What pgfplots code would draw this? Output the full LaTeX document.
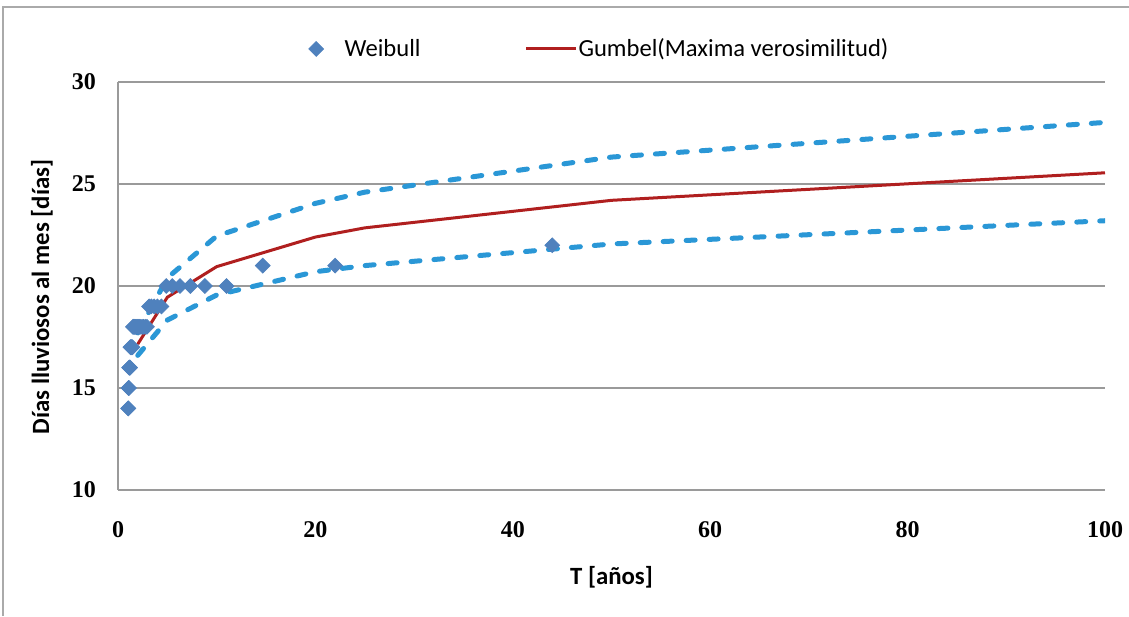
\documentclass[border=0pt]{standalone}
\usepackage{fontspec}
\setmainfont{Carlito}
\newfontfamily\tickfont{Liberation Serif}
\usepackage{pgfplots}
\pgfplotsset{compat=1.18}

\definecolor{weibull}{HTML}{4F81BD}
\definecolor{gumbel}{HTML}{B01F1F}
\definecolor{band}{HTML}{2A97D6}
\definecolor{gridgray}{HTML}{9A9A9A}
\definecolor{framegray}{HTML}{AAAAAA}

\pgfplotsset{
  longline legend/.style={
    legend image code/.code={\draw[##1] (0pt,0pt) -- (25pt,0pt);}},
  band line/.style={band, line width=2.5pt, line cap=round,
    dash pattern=on 4.5pt off 7pt, forget plot},
}

\begin{document}
\begin{tikzpicture}
\path[use as bounding box] (0pt,0pt) rectangle (564.5pt,-308pt);
\draw[framegray, line width=0.6pt] (1.5pt,-308pt) -- (1.5pt,-3.5pt) -- (564.5pt,-3.5pt);
\begin{axis}[
  at={(59pt,-245pt)}, anchor=south west,
  scale only axis, width=493.5pt, height=204pt,
  xmin=0, xmax=100, ymin=10, ymax=30,
  xtick={0,20,40,60,80,100}, ytick={10,15,20,25,30},
  axis lines*=left,
  axis line style={-, draw=gridgray, line width=0.75pt},
  major tick length=0pt,
  ymajorgrids, grid style={draw=gridgray, line width=0.75pt},
  /pgf/number format/assume math mode=true,
  ticklabel style={font=\tickfont\bfseries\fontsize{12}{12}\selectfont},
  yticklabel style={xshift=-7.5pt},
  xticklabel style={yshift=-12pt},
  xlabel={T [años]},
  ylabel={Días lluviosos al mes [días]},
  label style={font=\bfseries\fontsize{12.4}{14}\selectfont},
  xlabel style={at={(axis description cs:0.5,-0.213)}, anchor=center},
  ylabel style={at={(axis description cs:-0.077,0.473)}, anchor=center},
  legend style={at={(axis description cs:0.489,1.081)}, anchor=center,
    draw=none, fill=none, legend columns=2,
    font=\fontsize{12.3}{14}\selectfont,
    /tikz/column 1/.style={column sep=8.5pt},
    /tikz/column 2/.style={column sep=50pt},
    /tikz/column 3/.style={column sep=-1.5pt}},
]
% Weibull plotting positions, T = (n+1)/m with n = 43
\addplot[only marks, mark=square*, mark size=2.6pt,
  mark options={rotate=45, fill=weibull, draw=weibull}] coordinates {
  (44.000,22) (22.000,21) (14.667,21) (11.000,20) (8.800,20) (7.333,20)
  (6.286,20) (5.500,20) (4.889,20) (4.400,19) (4.000,19) (3.667,19)
  (3.385,19) (3.143,19) (2.933,18) (2.750,18) (2.588,18) (2.444,18)
  (2.316,18) (2.200,18) (2.095,18) (2.000,18) (1.913,18) (1.833,18)
  (1.760,18) (1.692,18) (1.630,18) (1.571,18) (1.517,18) (1.467,17)
  (1.419,17) (1.375,17) (1.333,17) (1.294,17) (1.257,17) (1.222,16)
  (1.189,16) (1.158,16) (1.128,16) (1.100,15) (1.073,15) (1.048,14)
  (1.023,14)
};
\addlegendentry{Weibull}
% Gumbel fit by maximum likelihood
\addplot[gumbel, line width=1.5pt, longline legend] coordinates {
  (2,17.15) (5,19.45) (10,20.95) (20,22.40) (25,22.85) (50,24.20) (100,25.55)
};
\addlegendentry{Gumbel(Maxima verosimilitud)}
% upper and lower confidence limits
\addplot[band line] coordinates {
  (2,17.7) (5,20.4) (10,22.45) (20,24.05) (25,24.6) (50,26.32) (100,28.02)
};
\addplot[band line] coordinates {
  (2,16.6) (5,18.33) (10,19.56) (20,20.7) (25,21.0) (50,22.06) (100,23.2)
};
\end{axis}
\end{tikzpicture}
\end{document}
